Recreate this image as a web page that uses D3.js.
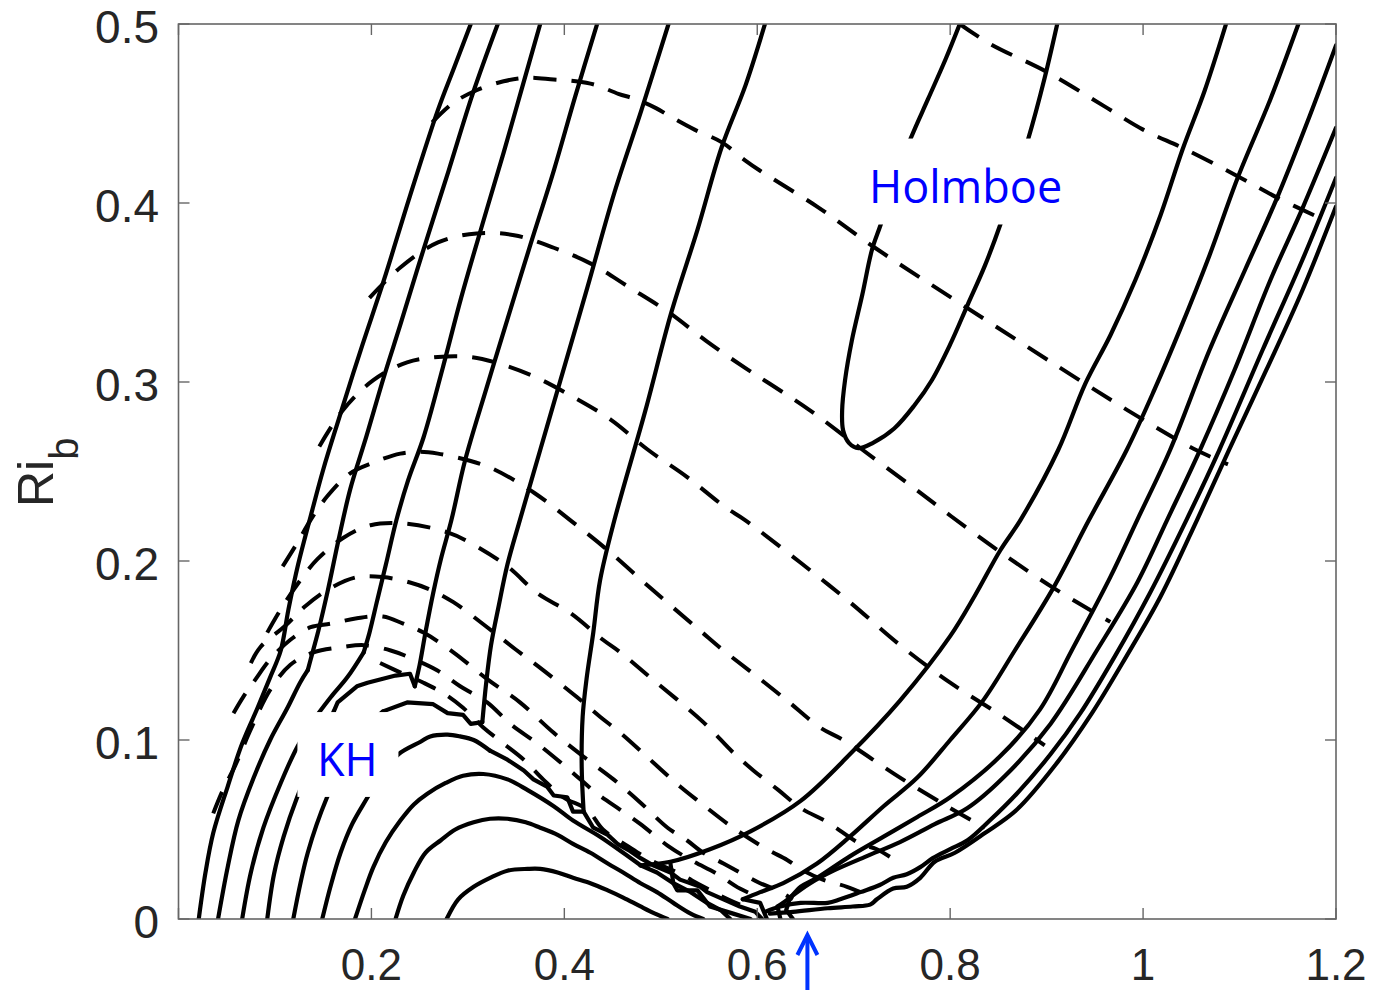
<!DOCTYPE html>
<html><head><meta charset="utf-8">
<script src="https://cdn.jsdelivr.net/npm/d3@7"></script>
<style>html,body{margin:0;padding:0;background:#fff}svg{display:block}</style>
</head><body>
<svg id="chart" width="1374" height="990"></svg>
<script>
// ---- axes ----
const xTicks = [0, 0.2, 0.4, 0.6, 0.8, 1, 1.2];
const xTickLabels = ["", "0.2", "0.4", "0.6", "0.8", "1", "1.2"];
const yTicks = [0, 0.1, 0.2, 0.3, 0.4, 0.5];
const yTickLabels = ["0", "0.1", "0.2", "0.3", "0.4", "0.5"];

// ---- solid contours (x = k, y = Ri_b) ----
const S1 = [[0.303,0.5],[0.286,0.476],[0.269,0.452],[0.240,0.404],[0.213,0.357],[0.189,0.318],[0.166,0.279],[0.150,0.251],[0.137,0.225],[0.124,0.198],[0.114,0.173],[0.106,0.150],[0.095,0.135],[0.082,0.118],[0.066,0.098],[0.051,0.074],[0.036,0.048],[0.028,0.026],[0.021,0]];
const S2 = [[0.331,0.5],[0.305,0.461],[0.280,0.418],[0.254,0.374],[0.230,0.332],[0.213,0.303],[0.195,0.270],[0.178,0.240],[0.166,0.212],[0.155,0.184],[0.145,0.161],[0.138,0.147],[0.134,0.139]];
const L2 = [[0.134,0.139],[0.126,0.132],[0.113,0.118],[0.095,0.100],[0.078,0.079],[0.062,0.055],[0.051,0.029],[0.041,0]];
const S3 = [[0.375,0.5],[0.356,0.464],[0.337,0.428],[0.315,0.388],[0.293,0.347],[0.274,0.308],[0.254,0.269],[0.238,0.245],[0.226,0.223],[0.215,0.198],[0.206,0.178],[0.198,0.160],[0.192,0.149]];
const L3 = [[0.192,0.149],[0.175,0.135],[0.158,0.124],[0.140,0.111],[0.123,0.096],[0.106,0.076],[0.088,0.051],[0.075,0.026],[0.066,0]];
const S4 = [[0.434,0.5],[0.411,0.459],[0.389,0.418],[0.365,0.377],[0.341,0.335],[0.319,0.296],[0.297,0.256],[0.283,0.223],[0.272,0.201],[0.264,0.182],[0.256,0.160],[0.250,0.142],[0.245,0.130]];
const L4a = [[0.245,0.130],[0.240,0.137],[0.225,0.136],[0.196,0.132],[0.185,0.130],[0.165,0.121],[0.161,0.116]];
const L4b = [[0.161,0.116],[0.142,0.092],[0.123,0.068],[0.109,0.046],[0.099,0.025],[0.092,0]];
const S5 = [[0.508,0.5],[0.480,0.452],[0.452,0.406],[0.424,0.353],[0.396,0.301],[0.375,0.262],[0.354,0.223],[0.341,0.198],[0.332,0.175],[0.324,0.153],[0.319,0.132],[0.315,0.110]];
const L5a = [[0.315,0.110],[0.303,0.109],[0.295,0.114],[0.279,0.115],[0.264,0.120],[0.237,0.121],[0.212,0.116]];
const L5b = [[0.212,0.116],[0.183,0.100],[0.154,0.068],[0.134,0.037],[0.119,0]];
const S6 = [[0.608,0.5],[0.588,0.466],[0.563,0.431],[0.538,0.385],[0.511,0.339],[0.484,0.284],[0.452,0.223],[0.437,0.189],[0.430,0.160],[0.423,0.134],[0.419,0.113],[0.418,0.085],[0.420,0.060]];
const L6a = [[0.420,0.060],[0.409,0.060],[0.403,0.068],[0.389,0.069],[0.382,0.074],[0.368,0.078],[0.358,0.083],[0.341,0.089],[0.323,0.094]];
const L6b = [[0.323,0.094],[0.306,0.100],[0.292,0.102],[0.279,0.103],[0.261,0.102],[0.251,0.099],[0.228,0.092],[0.209,0.080],[0.196,0.068],[0.180,0.053],[0.168,0.037],[0.158,0.019],[0.149,0]];
const W1 = [[0.420,0.060],[0.430,0.051],[0.445,0.047],[0.455,0.042],[0.468,0.038],[0.479,0.034],[0.492,0.030],[0.510,0.026],[0.520,0.022],[0.541,0.018],[0.548,0.015],[0.565,0.011],[0.582,0.007],[0.598,0.004],[0.605,0]];
const L7a = [[0.183,0],[0.193,0.016],[0.202,0.029],[0.215,0.043],[0.230,0.055],[0.244,0.064],[0.258,0.070],[0.277,0.076],[0.295,0.080],[0.316,0.081],[0.341,0.078],[0.362,0.072],[0.389,0.063],[0.409,0.055],[0.437,0.046],[0.461,0.037],[0.479,0.030]];
const L7b = [[0.479,0.030],[0.496,0.026],[0.513,0.020],[0.531,0.015],[0.548,0.009],[0.562,0.005],[0.572,0]];
const L8 = [[0.225,0],[0.233,0.013],[0.244,0.026],[0.256,0.037],[0.272,0.044],[0.287,0.050],[0.306,0.054],[0.323,0.056],[0.341,0.056],[0.360,0.054],[0.375,0.051],[0.393,0.047],[0.409,0.042],[0.427,0.037],[0.445,0.031],[0.461,0.026],[0.479,0.020],[0.496,0.015],[0.513,0.009],[0.531,0.003],[0.544,0]];
const L9 = [[0.278,0],[0.290,0.011],[0.306,0.018],[0.323,0.023],[0.341,0.027],[0.362,0.028],[0.375,0.028],[0.393,0.026],[0.409,0.023],[0.427,0.020],[0.445,0.016],[0.461,0.012],[0.479,0.007],[0.494,0.003],[0.507,0]];
const holmboe = [[0.810,0.5],[0.795,0.480],[0.777,0.458],[0.759,0.436],[0.743,0.413],[0.728,0.388],[0.719,0.374],[0.709,0.349],[0.698,0.323],[0.691,0.301],[0.688,0.284],[0.689,0.273],[0.695,0.266],[0.705,0.263],[0.720,0.266],[0.742,0.274],[0.763,0.287],[0.781,0.301],[0.800,0.321],[0.818,0.343],[0.836,0.365],[0.852,0.388],[0.867,0.413],[0.881,0.436],[0.898,0.470],[0.911,0.5]];
const R1 = [[1.086,0.5],[1.064,0.463],[1.041,0.430],[1.018,0.393],[0.992,0.357],[0.966,0.326],[0.940,0.299],[0.912,0.262],[0.873,0.223],[0.852,0.206],[0.826,0.181],[0.800,0.158],[0.748,0.122],[0.696,0.092],[0.645,0.066],[0.593,0.049],[0.551,0.039],[0.510,0.032],[0.479,0.030]];
const R2 = [[1.161,0.5],[1.132,0.458],[1.098,0.414],[1.069,0.371],[1.038,0.329],[1.012,0.296],[0.983,0.262],[0.944,0.223],[0.907,0.185],[0.867,0.150],[0.834,0.122],[0.800,0.100],[0.766,0.079],[0.731,0.063],[0.696,0.046],[0.662,0.031],[0.627,0.020],[0.603,0.015],[0.585,0.011]];
const R3 = [[1.2,0.488],[1.173,0.449],[1.139,0.403],[1.106,0.363],[1.069,0.318],[1.028,0.262],[0.994,0.223],[0.966,0.191],[0.926,0.150],[0.893,0.117],[0.852,0.091],[0.800,0.068],[0.766,0.057],[0.731,0.046],[0.696,0.035],[0.662,0.023],[0.645,0.018],[0.634,0.012],[0.621,0.007]];
const R4 = [[1.2,0.442],[1.166,0.398],[1.132,0.357],[1.095,0.307],[1.059,0.262],[1.025,0.223],[0.994,0.188],[0.952,0.150],[0.904,0.109],[0.857,0.080],[0.818,0.062],[0.784,0.053],[0.748,0.043],[0.713,0.035],[0.679,0.027],[0.655,0.020],[0.634,0.012]];
const R5 = [[1.2,0.414],[1.165,0.368],[1.124,0.318],[1.079,0.262],[1.045,0.223],[1.007,0.182],[0.971,0.147],[0.935,0.115],[0.904,0.092],[0.869,0.070],[0.841,0.055],[0.818,0.044],[0.800,0.039],[0.782,0.034],[0.769,0.029],[0.755,0.025],[0.741,0.023],[0.727,0.019],[0.707,0.015],[0.686,0.011],[0.673,0.009],[0.645,0.009],[0.624,0.007],[0.608,0.004]];
const R6 = [[1.2,0.398],[1.165,0.351],[1.128,0.307],[1.089,0.262],[1.056,0.223],[1.018,0.180],[0.983,0.147],[0.947,0.115],[0.909,0.086],[0.869,0.061],[0.836,0.048],[0.805,0.037],[0.784,0.032],[0.769,0.023],[0.755,0.018],[0.741,0.017],[0.724,0.011],[0.717,0.008],[0.699,0.007],[0.673,0.006],[0.637,0.004],[0.613,0.003]];
const P2 = [[0.510,0.031],[0.513,0.020],[0.517,0.016],[0.538,0.016],[0.551,0.007],[0.575,0.003],[0.593,0]];
const P3 = [[0.585,0.011],[0.603,0.009],[0.610,0]];
const P4 = [[0.621,0.007],[0.624,0]];
const P5 = [[0.634,0.012],[0.630,0.005],[0.637,0]];

// ---- dashed contours ----
const D0 = [[0.810,0.5],[0.841,0.489],[0.901,0.473],[0.960,0.454],[1.0,0.441],[1.044,0.430],[1.098,0.415],[1.139,0.403],[1.182,0.392]];
const D1 = [[0.263,0.445],[0.285,0.456],[0.309,0.463],[0.337,0.468],[0.361,0.470],[0.389,0.469],[0.412,0.468],[0.432,0.466],[0.456,0.461],[0.474,0.458],[0.495,0.453],[0.511,0.448],[0.535,0.441],[0.563,0.434],[0.587,0.424],[0.603,0.418],[0.662,0.398],[0.722,0.375],[0.813,0.343],[0.940,0.299],[1.0,0.279],[1.055,0.262],[1.088,0.254]];
const D2 = [[0.198,0.347],[0.230,0.364],[0.269,0.378],[0.309,0.383],[0.348,0.382],[0.389,0.375],[0.428,0.366],[0.467,0.353],[0.508,0.339],[0.547,0.323],[0.587,0.308],[0.613,0.299],[0.655,0.284],[0.707,0.263],[0.762,0.241],[0.801,0.225],[0.852,0.205],[0.907,0.185],[0.966,0.166]];
const D3 = [[0.146,0.264],[0.170,0.284],[0.202,0.301],[0.237,0.311],[0.269,0.314],[0.302,0.314],[0.328,0.311],[0.369,0.303],[0.408,0.292],[0.448,0.279],[0.487,0.262],[0.527,0.247],[0.567,0.230],[0.587,0.223],[0.645,0.199],[0.696,0.177],[0.748,0.153],[0.800,0.132],[0.852,0.114],[0.898,0.097]];
const D4 = [[0.108,0.197],[0.123,0.210],[0.137,0.223],[0.154,0.236],[0.178,0.249],[0.202,0.255],[0.230,0.260],[0.250,0.261],[0.269,0.260],[0.302,0.256],[0.328,0.251],[0.369,0.238],[0.408,0.222],[0.445,0.206],[0.489,0.185],[0.541,0.161],[0.565,0.150],[0.596,0.137],[0.631,0.122],[0.665,0.107],[0.689,0.100],[0.748,0.079],[0.800,0.062],[0.836,0.051]];
const D5 = [[0.092,0.160],[0.106,0.173],[0.126,0.189],[0.144,0.201],[0.171,0.213],[0.199,0.220],[0.233,0.221],[0.279,0.216],[0.303,0.210],[0.341,0.197],[0.372,0.182],[0.406,0.171],[0.440,0.156],[0.458,0.149],[0.489,0.135],[0.544,0.110],[0.575,0.093],[0.596,0.083],[0.622,0.072],[0.645,0.062],[0.673,0.054],[0.707,0.042],[0.724,0.039],[0.748,0.031]];
const D6 = [[0.075,0.143],[0.085,0.152],[0.111,0.164],[0.132,0.175],[0.158,0.185],[0.185,0.191],[0.212,0.191],[0.240,0.188],[0.261,0.184],[0.285,0.177],[0.320,0.163],[0.351,0.150],[0.378,0.139],[0.413,0.124],[0.437,0.113],[0.458,0.104],[0.489,0.089],[0.520,0.074],[0.541,0.065],[0.575,0.051],[0.610,0.039],[0.631,0.033],[0.648,0.027],[0.668,0.022],[0.693,0.018],[0.707,0.015]];
const D7 = [[0.057,0.115],[0.067,0.124],[0.080,0.134],[0.095,0.145],[0.116,0.156],[0.137,0.163],[0.158,0.165],[0.185,0.168],[0.212,0.169],[0.233,0.165],[0.254,0.160],[0.285,0.149],[0.320,0.134],[0.354,0.121],[0.389,0.104],[0.424,0.089],[0.451,0.078],[0.479,0.065],[0.507,0.051],[0.527,0.044],[0.544,0.037],[0.565,0.031],[0.582,0.026],[0.603,0.020],[0.621,0.016],[0.637,0.011]];
const D8 = [[0.036,0.059],[0.046,0.072],[0.059,0.086],[0.075,0.106],[0.095,0.128],[0.116,0.142],[0.140,0.149],[0.171,0.152],[0.192,0.153],[0.220,0.150],[0.240,0.146],[0.268,0.139],[0.292,0.130],[0.320,0.121],[0.344,0.109],[0.372,0.098],[0.406,0.083],[0.434,0.070],[0.458,0.061],[0.479,0.053],[0.507,0.041],[0.531,0.033],[0.559,0.025],[0.582,0.017],[0.603,0.012]];
const D9 = [[0.209,0.143],[0.233,0.137],[0.254,0.132],[0.275,0.126],[0.295,0.118],[0.316,0.107],[0.337,0.098],[0.358,0.089],[0.378,0.078],[0.399,0.068],[0.424,0.061],[0.440,0.050],[0.465,0.041],[0.489,0.033],[0.517,0.026],[0.541,0.019],[0.562,0.013],[0.582,0.008]];

// ---- annotations ----
const labelHolmboe = {text: "Holmboe", x: 0.816, y: 0.400, box: [0.694, 0.436, 0.939, 0.388]};
const labelKH = {text: "KH", x: 0.175, y: 0.080, box: [0.1233, 0.1156, 0.228, 0.0682]};
const arrowK = 0.652;

const solidSmooth = [S1, S2, L2, S3, L3, S4, L4b, S5, L5b, S6, L6b, L7a, L8, L9, holmboe, R1, R2, R3, R4, R5, R6];
const solidLinear = [L4a, L5a, L6a, W1, L7b, P2, P3, P4, P5];
const dashed = [D0, D1, D2, D3, D4, D5, D6, D7, D8, D9];

// ---- drawing ----
const svg = d3.select("#chart");
const L = 178.5, R = 1336, T = 24, B = 919;
const x = d3.scaleLinear().domain([0, 1.2]).range([L, R]);
const y = d3.scaleLinear().domain([0, 0.5]).range([B, T]);

svg.append("defs").append("clipPath").attr("id", "clip")
  .append("rect").attr("x", L).attr("y", T).attr("width", R - L).attr("height", B - T);

const plot = svg.append("g").attr("clip-path", "url(#clip)");
const smooth = d3.line().x(d => x(d[0])).y(d => y(d[1])).curve(d3.curveCatmullRom.alpha(0.5));
const straight = d3.line().x(d => x(d[0])).y(d => y(d[1]));

plot.selectAll("path.dash").data(dashed).join("path").attr("class", "dash")
  .attr("d", smooth).attr("fill", "none").attr("stroke", "#000")
  .attr("stroke-width", 4).attr("stroke-dasharray", "23 15").attr("stroke-linejoin", "round");
plot.selectAll("path.sm").data(solidSmooth).join("path").attr("class", "sm")
  .attr("d", smooth).attr("fill", "none").attr("stroke", "#000")
  .attr("stroke-width", 4.2).attr("stroke-linejoin", "round").attr("stroke-linecap", "round");
plot.selectAll("path.ln").data(solidLinear).join("path").attr("class", "ln")
  .attr("d", straight).attr("fill", "none").attr("stroke", "#000")
  .attr("stroke-width", 4.2).attr("stroke-linejoin", "round").attr("stroke-linecap", "round");

// label boxes
[labelHolmboe, labelKH].forEach(lb => {
  const [x0, y0, x1, y1] = lb.box;
  plot.append("rect").attr("x", x(x0)).attr("y", y(y0))
    .attr("width", x(x1) - x(x0)).attr("height", y(y1) - y(y0)).attr("fill", "#fff");
  svg.append("text").attr("x", x(lb.x)).attr("y", y(lb.y))
    .attr("text-anchor", "middle").attr("font-family", "'Open Sans', 'Noto Sans', sans-serif")
    .attr("font-size", 45).attr("fill", "#0000ff").text(lb.text);
});

// axes frame and ticks
const axisColor = "#666";
svg.append("rect").attr("x", L).attr("y", T).attr("width", R - L).attr("height", B - T)
  .attr("fill", "none").attr("stroke", axisColor).attr("stroke-width", 1.6);
const tl = 11;
xTicks.forEach(t => {
  svg.append("line").attr("x1", x(t)).attr("x2", x(t)).attr("y1", B).attr("y2", B - tl).attr("stroke", axisColor).attr("stroke-width", 1.4);
  svg.append("line").attr("x1", x(t)).attr("x2", x(t)).attr("y1", T).attr("y2", T + tl).attr("stroke", axisColor).attr("stroke-width", 1.4);
});
yTicks.forEach(t => {
  svg.append("line").attr("x1", L).attr("x2", L + tl).attr("y1", y(t)).attr("y2", y(t)).attr("stroke", axisColor).attr("stroke-width", 1.4);
  svg.append("line").attr("x1", R).attr("x2", R - tl).attr("y1", y(t)).attr("y2", y(t)).attr("stroke", axisColor).attr("stroke-width", 1.4);
});
const tickFont = "'Liberation Sans', Arial, Helvetica, sans-serif";
svg.selectAll("text.xt").data(xTicks).join("text").attr("class", "xt")
  .attr("x", d => x(d)).attr("y", 980).attr("text-anchor", "middle")
  .attr("font-family", tickFont).attr("font-size", 44).attr("fill", "#262626")
  .text((d, i) => xTickLabels[i]);
svg.selectAll("text.yt").data(yTicks).join("text").attr("class", "yt")
  .attr("x", 159).attr("y", d => y(d) + 19).attr("text-anchor", "end")
  .attr("font-family", tickFont).attr("font-size", 46).attr("fill", "#262626")
  .text((d, i) => yTickLabels[i]);

// y label Ri_b
const yl = svg.append("text").attr("transform", "translate(53,507) rotate(-90)")
  .attr("font-family", tickFont).attr("font-size", 50).attr("fill", "#262626");
yl.append("tspan").text("Ri");
yl.append("tspan").attr("font-size", 40).attr("dy", 25).text("b");

// blue arrow marking k
const ax = x(arrowK);
svg.append("line").attr("x1", ax).attr("x2", ax).attr("y1", 990).attr("y2", 936)
  .attr("stroke", "#0033ff").attr("stroke-width", 4);
svg.append("polyline").attr("points", `${ax - 10},955 ${ax},935 ${ax + 10},955`)
  .attr("fill", "none").attr("stroke", "#0033ff").attr("stroke-width", 4).attr("stroke-linejoin", "miter");
</script>
</body></html>
